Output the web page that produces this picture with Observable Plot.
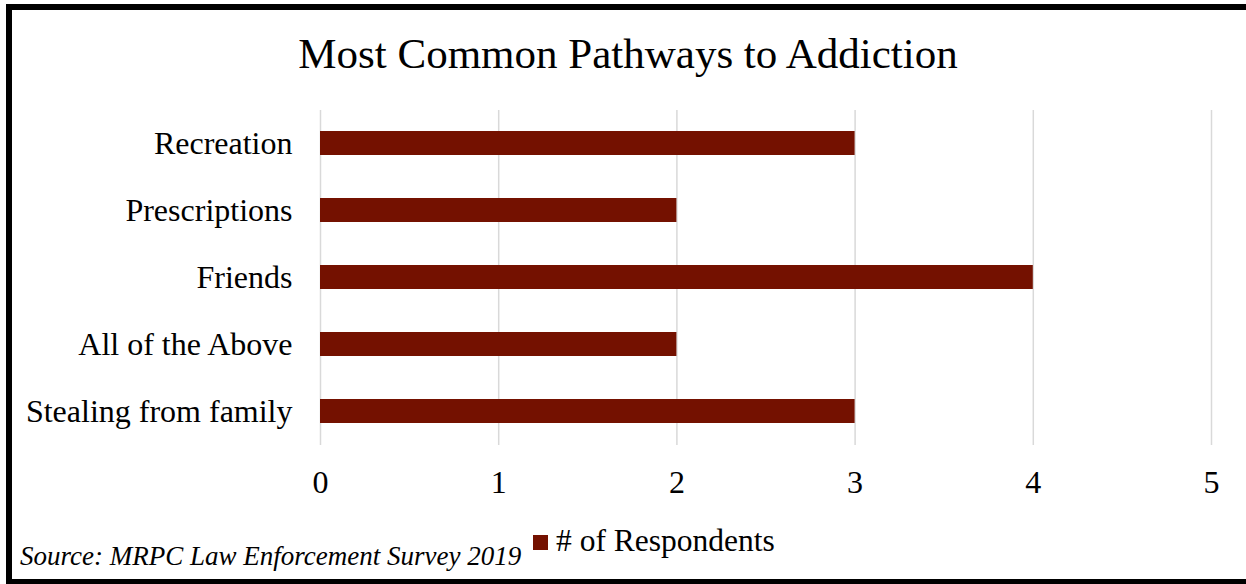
<!DOCTYPE html>
<html>
<head>
<meta charset="utf-8">
<script src="https://cdn.jsdelivr.net/npm/d3@7"></script>
<script src="https://cdn.jsdelivr.net/npm/@observablehq/plot@0.6"></script>
<style>
  html, body { margin: 0; padding: 0; background: #fff; }
  #page { position: relative; width: 1246px; height: 584px; overflow: hidden; background: #fff; font-family: "Liberation Serif", "Times New Roman", serif; }
  #frame { position: absolute; left: 6px; top: 4px; width: 1260px; height: 569px; border: 6px solid #000; box-sizing: content-box; }
  #title { position: absolute; left: 0; width: 1256px; top: 28px; text-align: center; font-size: 43px; line-height: 52px; color: #000; white-space: nowrap; }
  #chart { position: absolute; left: 0; top: 90px; }
  #source { position: absolute; left: 20px; top: 541px; font-size: 27px; font-style: italic; line-height: 30px; white-space: nowrap; color: #000; }
  #legend { position: absolute; left: 533px; top: 523px; font-size: 31.5px; line-height: 36px; white-space: nowrap; color: #000; }
  #legend .sw { display: inline-block; width: 15px; height: 15px; background: #741100; margin-right: 8px; vertical-align: 1px; }
</style>
</head>
<body>
<div id="page">
  <div id="frame"></div>
  <div id="title">Most Common Pathways to Addiction</div>
  <div id="chart"></div>
  <div id="source">Source: MRPC Law Enforcement Survey 2019</div>
  <div id="legend"><span class="sw"></span># of Respondents</div>
</div>
<script>
const categories = ["Recreation", "Prescriptions", "Friends", "All of the Above", "Stealing from family"];
const respondents = [3, 2, 4, 2, 3];
const xTicks = [0, 1, 2, 3, 4, 5];
const seriesName = "# of Respondents";
const barColor = "#741100";

const data = categories.map((c, i) => ({category: c, value: respondents[i], series: seriesName}));

const chart = Plot.plot({
  width: 1246,
  height: 420,
  marginLeft: 320,
  marginRight: 35,
  marginTop: 20,
  marginBottom: 65,
  style: {fontFamily: "Liberation Serif, Times New Roman, serif", fontSize: "32px", color: "#000", background: "transparent"},
  x: {domain: [0, 5], ticks: xTicks, label: null},
  y: {domain: categories, paddingInner: 0.64, paddingOuter: 0.32, label: null},
  marks: [
    Plot.ruleX(xTicks, {stroke: "#d9d9d9", strokeWidth: 1.5}),
    Plot.barX(data, {x: "value", y: "category", fill: barColor}),
    Plot.axisX({ticks: xTicks, tickSize: 0, tickPadding: 25, fontSize: 32, label: null, tickFormat: d => String(d)}),
    Plot.axisY({tickSize: 0, tickPadding: 28, fontSize: 32, label: null})
  ]
});
document.getElementById("chart").appendChild(chart);
</script>
</body>
</html>
